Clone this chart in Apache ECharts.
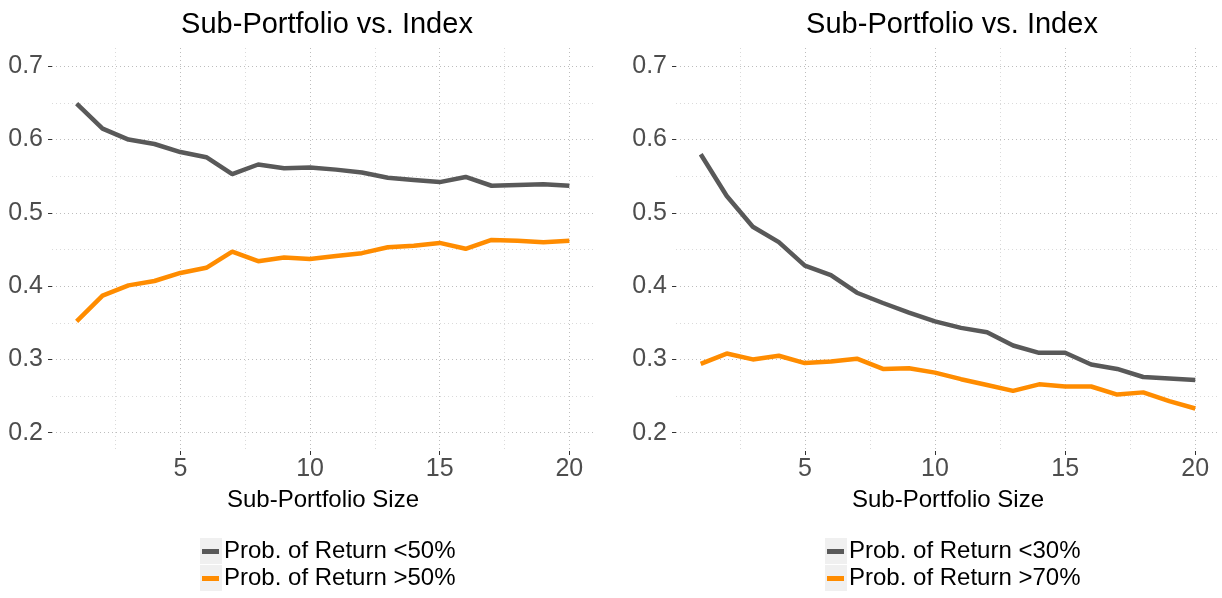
<!DOCTYPE html>
<html>
<head>
<meta charset="utf-8">
<script src="https://cdn.jsdelivr.net/npm/echarts@6/dist/echarts.min.js"></script>
<style>
  html, body { margin: 0; padding: 0; background: #fff; }
  #chart { width: 1222px; height: 598px; }
</style>
</head>
<body>
<div id="chart"></div>
<script>
  // sub-portfolio sizes 1..20
  const sizes = [1, 2, 3, 4, 5, 6, 7, 8, 9, 10, 11, 12, 13, 14, 15, 16, 17, 18, 19, 20];

  // left panel: return below / above 50%
  const leftBelow50 = [0.649, 0.615, 0.600, 0.594, 0.583, 0.576, 0.553, 0.566, 0.561, 0.562,
                       0.559, 0.555, 0.548, 0.545, 0.542, 0.549, 0.537, 0.538, 0.539, 0.537];
  const leftAbove50 = [0.352, 0.387, 0.401, 0.407, 0.418, 0.425, 0.447, 0.434, 0.439, 0.437,
                       0.441, 0.445, 0.453, 0.455, 0.459, 0.451, 0.463, 0.462, 0.460, 0.462];

  // right panel: return below 30% / above 70%
  const rightBelow30 = [0.580, 0.523, 0.481, 0.460, 0.428, 0.415, 0.391, 0.377, 0.364, 0.352,
                        0.343, 0.337, 0.319, 0.309, 0.309, 0.293, 0.287, 0.276, 0.274, 0.272];
  const rightAbove70 = [0.294, 0.308, 0.300, 0.305, 0.295, 0.297, 0.301, 0.287, 0.288, 0.282,
                        0.273, 0.265, 0.257, 0.266, 0.263, 0.263, 0.252, 0.255, 0.243, 0.233];

  const xTicks = [5, 10, 15, 20];
  const xMinor = [2.5, 7.5, 12.5, 17.5];
  const yTicks = [0.2, 0.3, 0.4, 0.5, 0.6, 0.7];
  const yMinor = [0.25, 0.35, 0.45, 0.55, 0.65];

  const names = [
    ['Prob. of Return <50%', 'Prob. of Return >50%'],
    ['Prob. of Return <30%', 'Prob. of Return >70%']
  ];

  const FONT = '"Liberation Sans", Arial, sans-serif';
  const GREY = '#595959';
  const ORANGE = '#ff8c00';

  const pairs = vals => sizes.map((s, i) => [s, vals[i]]);

  const chart = echarts.init(document.getElementById('chart'));

  const grids = [
    { left: 52, top: 48, width: 542, height: 403 },
    { left: 676, top: 48, width: 544, height: 403 }
  ];

  const majorLine = { color: '#bdbdbd', type: [1, 3], width: 1 };
  const minorLine = { color: '#dadada', type: [1, 3], width: 1 };

  const xAxes = [];
  const yAxes = [];
  [0, 1].forEach(g => {
    // main x axis: labels, ticks, major grid lines
    xAxes.push({
      type: 'value', gridIndex: g, min: 0.05, max: 20.95, position: 'bottom',
      name: 'Sub-Portfolio Size', nameLocation: 'middle', nameGap: 37,
      nameTextStyle: { fontFamily: FONT, fontSize: 24, color: '#000' },
      axisLine: { show: false },
      axisTick: { show: true, length: 4, customValues: xTicks, lineStyle: { color: '#333' } },
      axisLabel: { customValues: xTicks, fontFamily: FONT, fontSize: 25, color: '#4d4d4d', margin: 6 },
      splitLine: { show: true, lineStyle: majorLine }
    });
    // minor vertical grid lines
    xAxes.push({
      type: 'value', gridIndex: g, min: 0.05, max: 20.95, position: 'bottom',
      axisLine: { show: false },
      axisTick: { show: false, customValues: xMinor },
      axisLabel: { show: false },
      splitLine: { show: true, lineStyle: minorLine }
    });
    yAxes.push({
      type: 'value', gridIndex: g, min: 0.175, max: 0.725, position: 'left',
      axisLine: { show: false },
      axisTick: { show: true, length: 4, customValues: yTicks, lineStyle: { color: '#333' } },
      axisLabel: {
        customValues: yTicks, fontFamily: FONT, fontSize: 25, color: '#4d4d4d', margin: 9,
        formatter: v => v.toFixed(1)
      },
      splitLine: { show: true, lineStyle: majorLine }
    });
    yAxes.push({
      type: 'value', gridIndex: g, min: 0.175, max: 0.725, position: 'left',
      axisLine: { show: false },
      axisTick: { show: false, customValues: yMinor },
      axisLabel: { show: false },
      splitLine: { show: true, lineStyle: minorLine }
    });
  });

  const mkSeries = (name, vals, g, color) => ({
    name: name, type: 'line', xAxisIndex: g * 2, yAxisIndex: g * 2,
    data: pairs(vals), symbol: 'none', smooth: false,
    lineStyle: { color: color, width: 4.5 }, itemStyle: { color: color },
    z: 5
  });

  const legendBase = {
    orient: 'vertical', top: 538, padding: 0, itemGap: 0,
    itemWidth: 17, itemHeight: 5, icon: 'rect',
    textStyle: { fontFamily: FONT, fontSize: 24, color: '#000', lineHeight: 27, padding: [0, 0, 0, 0] }
  };

  // light key boxes behind legend symbols
  const keyBox = (x, y) => ({
    type: 'rect', left: x, top: y, z: 0,
    shape: { width: 22, height: 26 }, style: { fill: '#f0f0f0' }
  });

  const option = {
    animation: false,
    backgroundColor: '#fff',
    title: [
      { text: 'Sub-Portfolio vs. Index', left: 322, top: 5, textAlign: 'center',
        textStyle: { fontFamily: FONT, fontSize: 29, fontWeight: 'normal', color: '#000' } },
      { text: 'Sub-Portfolio vs. Index', left: 947, top: 5, textAlign: 'center',
        textStyle: { fontFamily: FONT, fontSize: 29, fontWeight: 'normal', color: '#000' } }
    ],
    grid: grids,
    xAxis: xAxes,
    yAxis: yAxes,
    legend: [
      Object.assign({}, legendBase, { left: 202, data: names[0] }),
      Object.assign({}, legendBase, { left: 827, data: names[1] })
    ],
    graphic: [
      keyBox(200, 538), keyBox(200, 565),
      keyBox(825, 538), keyBox(825, 565)
    ],
    series: [
      mkSeries(names[0][0], leftBelow50, 0, GREY),
      mkSeries(names[0][1], leftAbove50, 0, ORANGE),
      mkSeries(names[1][0], rightBelow30, 1, GREY),
      mkSeries(names[1][1], rightAbove70, 1, ORANGE)
    ]
  };

  chart.setOption(option);
  window.addEventListener('resize', () => { chart.resize(); });
</script>
</body>
</html>
